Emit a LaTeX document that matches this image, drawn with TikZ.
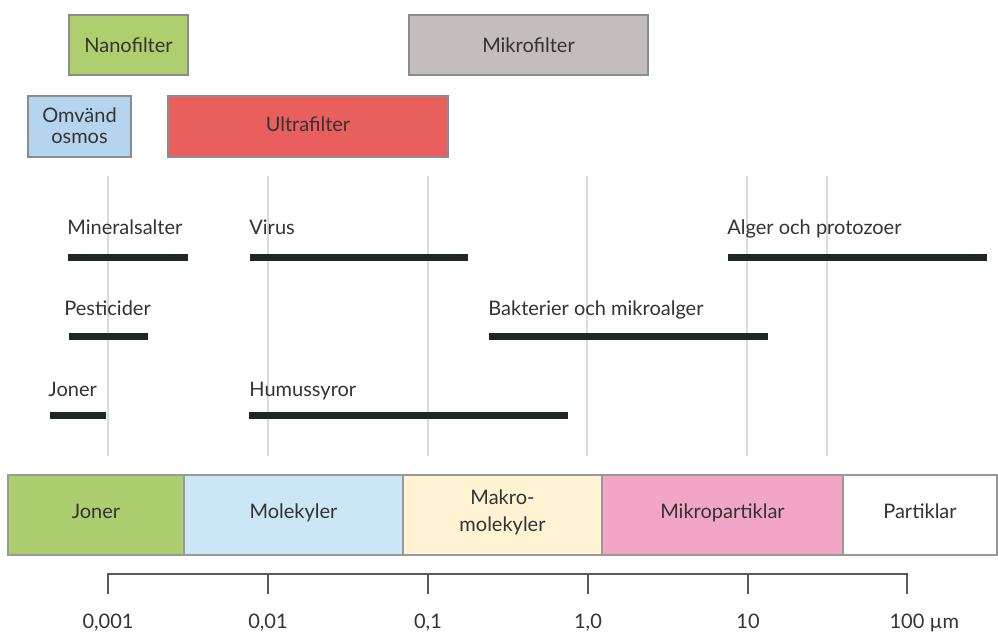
\documentclass[tikz,border=0pt]{standalone}
\usepackage{fontspec}
\setmainfont{Lato}

\definecolor{txt}{HTML}{333333}
\definecolor{nanogreen}{HTML}{AFCF6E}
\definecolor{mikrogray}{HTML}{C3BDBD}
\definecolor{osmosblue}{HTML}{B5D5EE}
\definecolor{ultrared}{HTML}{E95F5E}
\definecolor{jonergreen}{HTML}{ADCE6F}
\definecolor{molblue}{HTML}{CBE7F7}
\definecolor{makrocream}{HTML}{FFF3D4}
\definecolor{mikropink}{HTML}{F3A5C5}
\definecolor{barblack}{HTML}{1E2626}
\definecolor{gridgray}{HTML}{DADAE2}

\tikzset{
  filterbox/.style={draw=black!45,line width=0.8pt},
  bandbox/.style={draw=black!40,line width=0.8pt},
  sizebar/.style={draw=barblack,line width=3.5pt},
  gridline/.style={draw=gridgray,line width=0.8pt},
  scaleline/.style={draw=black!65,line width=1pt},
  lbl/.style={anchor=base west,inner sep=0pt},
  ctext/.style={anchor=base,inner sep=0pt}
}

\begin{document}
\begin{tikzpicture}[x=0.5pt,y=-0.5pt,font=\fontsize{10}{10.5}\selectfont,text=txt]

\useasboundingbox (0,0) rectangle (998,632);

% grid
\foreach \x in {108,268,428,587,747,827}
  \draw[gridline] (\x,176) -- (\x,456);

% filters
\draw[filterbox,fill=nanogreen] (69,15) rectangle (188,75);
\node[ctext] (nano) at (128.5,52) {Nanofilter};

\draw[filterbox,fill=mikrogray] (409,15) rectangle (648,75);
\node[ctext] (mikro) at (528.5,52) {Mikrofilter};

\draw[filterbox,fill=osmosblue] (28,96) rectangle (131,157);
\node[ctext] (osmos1) at (79.5,122) {Omvänd};
\node[ctext] (osmos2) at (79.5,143) {osmos};

\draw[filterbox,fill=ultrared] (168,96) rectangle (448,157);
\node[ctext] (ultra) at (308,131) {Ultrafilter};

% size ranges
\node[lbl] (mineral) at (67,234) {Mineralsalter};
\draw[sizebar] (68,257) -- (188,257);

\node[lbl] (virus) at (249,234) {Virus};
\draw[sizebar] (250,257) -- (468,257);

\node[lbl] (alger) at (727,234) {Alger och protozoer};
\draw[sizebar] (728,257) -- (987,257);

\node[lbl] (pest) at (64,315) {Pesticider};
\draw[sizebar] (69,336) -- (148,336);

\node[lbl] (bakt) at (488,315) {Bakterier och mikroalger};
\draw[sizebar] (489,336) -- (768,336);

\node[lbl] (joner) at (48,396) {Joner};
\draw[sizebar] (50,415) -- (106,415);

\node[lbl] (humus) at (249,396) {Humussyror};
\draw[sizebar] (249,415) -- (568,415);

% band
\draw[bandbox,fill=jonergreen] (8,475) rectangle (184,555);
\draw[bandbox,fill=molblue] (184,475) rectangle (403,555);
\draw[bandbox,fill=makrocream] (403,475) rectangle (602,555);
\draw[bandbox,fill=mikropink] (602,475) rectangle (843,555);
\draw[bandbox,fill=white] (843,475) rectangle (997,555);

\node[ctext] (bjoner) at (96,518) {Joner};
\node[ctext] (bmol) at (293.5,518) {Molekyler};
\node[ctext] (bmakro1) at (502.5,504) {Makro-};
\node[ctext] (bmakro2) at (502.5,531) {molekyler};
\node[ctext] (bmikro) at (722.5,518) {Mikropartiklar};
\node[ctext] (bpart) at (920,518) {Partiklar};

% scale
\draw[scaleline] (108,594) -- (108,574) -- (907,574) -- (907,594);
\foreach \x in {268,428,588,748}
  \draw[scaleline] (\x,574) -- (\x,594);

\node[ctext] (s1) at (108,628) {0,001};
\node[ctext] (s2) at (268,628) {0,01};
\node[ctext] (s3) at (428,628) {0,1};
\node[ctext] (s4) at (588,628) {1,0};
\node[ctext] (s5) at (748,628) {10};
\node[ctext] (s6) at (907,628) {100\rlap{ µm}};
\end{tikzpicture}
\end{document}
